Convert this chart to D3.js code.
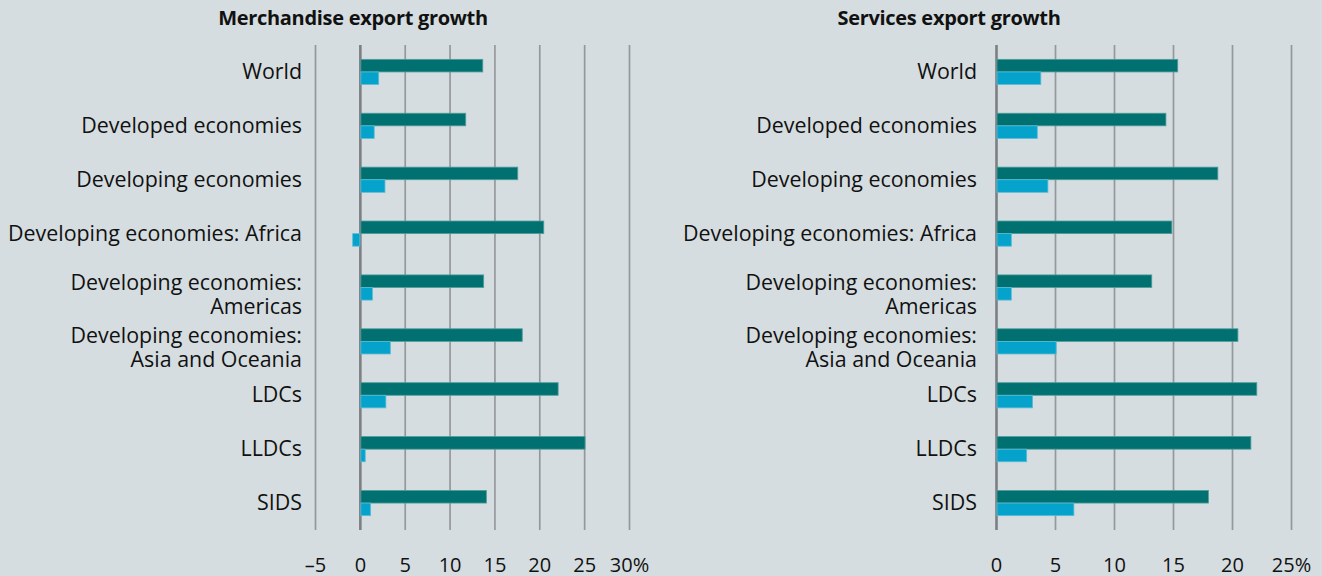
<!DOCTYPE html>
<html><head><meta charset="utf-8">
<script src="https://cdn.jsdelivr.net/npm/d3@7"></script>
<style>
html,body{margin:0;padding:0;background:#d5dde0;}
svg{display:block;}
text{font-family:"Open Sans","Noto Sans",sans-serif;fill:#111;}
</style></head>
<body>
<svg id="chart" width="1322" height="576"></svg>
<script>
// ---- data ----
const categories = [
  ["World"],
  ["Developed economies"],
  ["Developing economies"],
  ["Developing economies: Africa"],
  ["Developing economies:", "Americas"],
  ["Developing economies:", "Asia and Oceania"],
  ["LDCs"],
  ["LLDCs"],
  ["SIDS"]
];
const merchSeriesDark  = [13.7, 11.8, 17.6, 20.5, 13.8, 18.1, 22.1, 25.1, 14.1];
const merchSeriesLight = [2.1, 1.6, 2.8, -0.8, 1.4, 3.4, 2.9, 0.6, 1.2];
const servSeriesDark   = [15.4, 14.4, 18.8, 14.9, 13.2, 20.5, 22.1, 21.6, 18.0];
const servSeriesLight  = [3.8, 3.5, 4.4, 1.3, 1.3, 5.1, 3.1, 2.6, 6.6];
const merchTicks = [-5, 0, 5, 10, 15, 20, 25, 30];
const servTicks  = [0, 5, 10, 15, 20, 25];
const merchTitle = "Merchandise export growth";
const servTitle  = "Services export growth";

// ---- styles ----
const COL_DARK = "#007170", COL_LIGHT = "#05a3cb";
const svg = d3.select("#chart");
const keys = categories.map(c => c.join(" "));

function panel(opts) {
  const g = svg.append("g");
  const x = d3.scaleLinear().domain(opts.domain).range(opts.xRange);
  const y = d3.scaleBand().domain(keys).range([45, 530]).padding(0);
  const sub = d3.scaleBand().domain(["dark", "light"]).range([0, y.bandwidth()])
      .paddingInner(0).paddingOuter(1.14);

  // gridlines via axis
  const grid = g.append("g").attr("transform", "translate(0,530)")
    .call(d3.axisBottom(x).tickValues(opts.ticks).tickSize(-485).tickFormat(""));
  grid.select(".domain").remove();
  grid.selectAll(".tick line")
    .attr("stroke", d => d === 0 ? "#7d8083" : "#95989b")
    .attr("stroke-width", d => d === 0 ? 2.6 : 1.7);

  // tick labels
  const ax = g.append("g").attr("transform", "translate(0,553)")
    .call(d3.axisBottom(x).tickValues(opts.ticks).tickSize(0)
      .tickFormat((d, i) => (d < 0 ? "\u2013" + Math.abs(d) : d) + (i === opts.ticks.length - 1 ? "%" : "")));
  ax.select(".domain").remove();
  ax.selectAll("text").attr("dy", 0).attr("y", 18.5)
    .style("font-size", "20px").style("font-family", '"Open Sans",sans-serif').attr("fill", "#111");

  const rows = keys.map((k, i) => ({k, dark: opts.dark[i], light: opts.light[i]}));
  const row = g.selectAll("g.row").data(rows).join("g").attr("class", "row")
    .attr("transform", d => `translate(0,${y(d.k)})`);
  ["dark", "light"].forEach(s => {
    row.append("rect")
      .attr("x", d => x(Math.min(0, d[s])) + (d[s] >= 0 ? 1 : 0))
      .attr("width", d => Math.abs(x(d[s]) - x(0)) - (d[s] >= 0 ? 1 : 0))
      .attr("y", sub(s)).attr("height", sub.bandwidth())
      .attr("fill", s === "dark" ? COL_DARK : COL_LIGHT)
      .attr("stroke", s === "dark" ? "#4f9c9b" : "#5cbcd6").attr("stroke-width", 0.8);
  });

  // category labels
  categories.forEach((c, i) => {
    const cy = y(keys[i]) + y.bandwidth() / 2;
    const t = g.append("text").attr("text-anchor", "end").style("font-size", "21.4px");
    if (c.length === 1) {
      t.append("tspan").attr("x", opts.labelX).attr("y", cy + 7).text(c[0]);
    } else {
      t.append("tspan").attr("x", opts.labelX).attr("y", cy + 2).text(c[0]);
      t.append("tspan").attr("x", opts.labelX).attr("y", cy + 26).text(c[1]);
    }
  });

  g.append("text").attr("x", opts.titleX).attr("y", 25).attr("text-anchor", "middle")
    .style("font-size", "20px").style("font-weight", "bold").style("letter-spacing", "-0.3px")
    .text(opts.title);
}

panel({domain: [-5, 30], xRange: [315, 629], ticks: merchTicks, dark: merchSeriesDark,
  light: merchSeriesLight, labelX: 302, titleX: 353, title: merchTitle});
panel({domain: [0, 25], xRange: [996, 1291], ticks: servTicks, dark: servSeriesDark,
  light: servSeriesLight, labelX: 977, titleX: 949, title: servTitle});
</script>
</body></html>
